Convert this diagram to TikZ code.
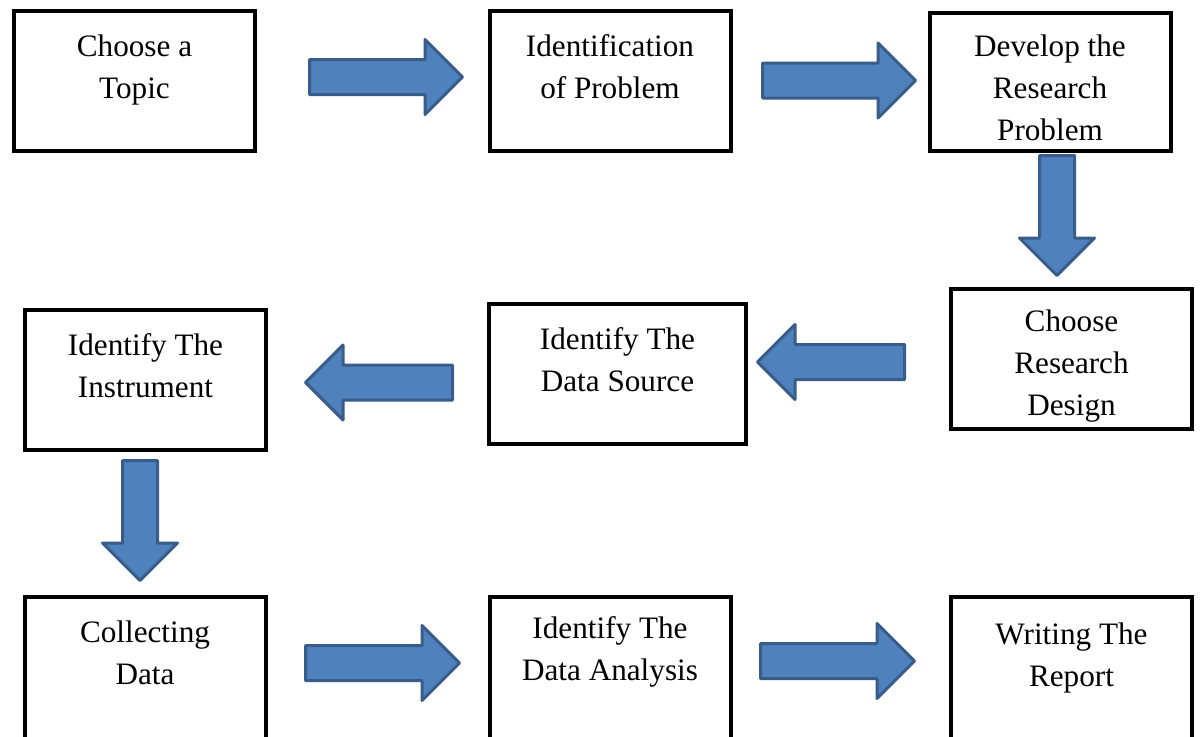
\documentclass[tikz,border=0pt]{standalone}
\usepackage{fontspec}
\setmainfont{Liberation Serif}
\usetikzlibrary{shapes.arrows}
\definecolor{arrowfill}{RGB}{79,129,189}
\definecolor{arrowline}{RGB}{56,93,138}
\tikzset{
    stage/.style={draw, line width=2pt, minimum width=120.5pt, minimum height=70pt, inner sep=0pt},
    stagetext/.style={anchor=north, inner sep=0pt, align=center, yshift=-12.5pt, font=\fontsize{15.6}{21}\selectfont},
    flow/.style={single arrow, draw=arrowline, fill=arrowfill, line width=1.5pt, line join=round,
        inner sep=0pt, text height=16pt, text depth=0pt, minimum width=36pt,
        single arrow head extend=10pt, minimum height=#1, anchor=tail},
}
\begin{document}
\begin{tikzpicture}[x=0.5pt, y=-0.5pt]
                \clip (0,0) rectangle (1202,736);
                \fill[white] (0,0) rectangle (1202,736);
                % first row
                \node[stage, label={[stagetext]north:{Choose a\\Topic}}] (topic) at (134.5,81) {};
                \node[stage, label={[stagetext]north:{Identification\\of Problem}}] (ident) at (610,81) {};
                \node[stage, minimum height=69pt, label={[stagetext, yshift=1pt]north:{Develop the\\Research\\Problem}}] (develop) at (1050,82) {};
                % second row
                \node[stage, label={[stagetext, yshift=1pt]north:{Choose\\Research\\Design}}] (design) at (1071.5,358.5) {};
                \node[stage, minimum width=128.5pt, label={[stagetext]north:{Identify The\\Data Source}}] (source) at (617.5,374) {};
                \node[stage, label={[stagetext]north:{Identify The\\Instrument}}] (instrument) at (145.5,380) {};
                % third row
                \node[stage, minimum height=80pt, label={[stagetext]north:{Collecting\\Data}}] (collect) at (145,677) {};
                \node[stage, minimum height=80pt, label={[stagetext, yshift=2pt]north:{Identify The\\Data Analysis}}] (analysis) at (610,677) {};
                \node[stage, minimum height=80pt, label={[stagetext, yshift=-1pt]north:{Writing The\\Report}}] (report) at (1071.5,677) {};
                % block arrows
                \node[flow=76.5pt] (a1) at (308,77) {};
                \node[flow=76.5pt] (a2) at (761,80.5) {};
                \node[flow=60pt, rotate=-90, minimum width=34pt] (a3) at (1057,154) {};
                \node[flow=73.5pt, rotate=180] (a4) at (906,362) {};
                \node[flow=73.5pt, rotate=180] (a5) at (454,382.5) {};
                \node[flow=60pt, rotate=-90, minimum width=34pt] (a6) at (140,459) {};
                \node[flow=77pt] (a7) at (304,663) {};
                \node[flow=77pt] (a8) at (759,661) {};
            \end{tikzpicture}
\end{document}
